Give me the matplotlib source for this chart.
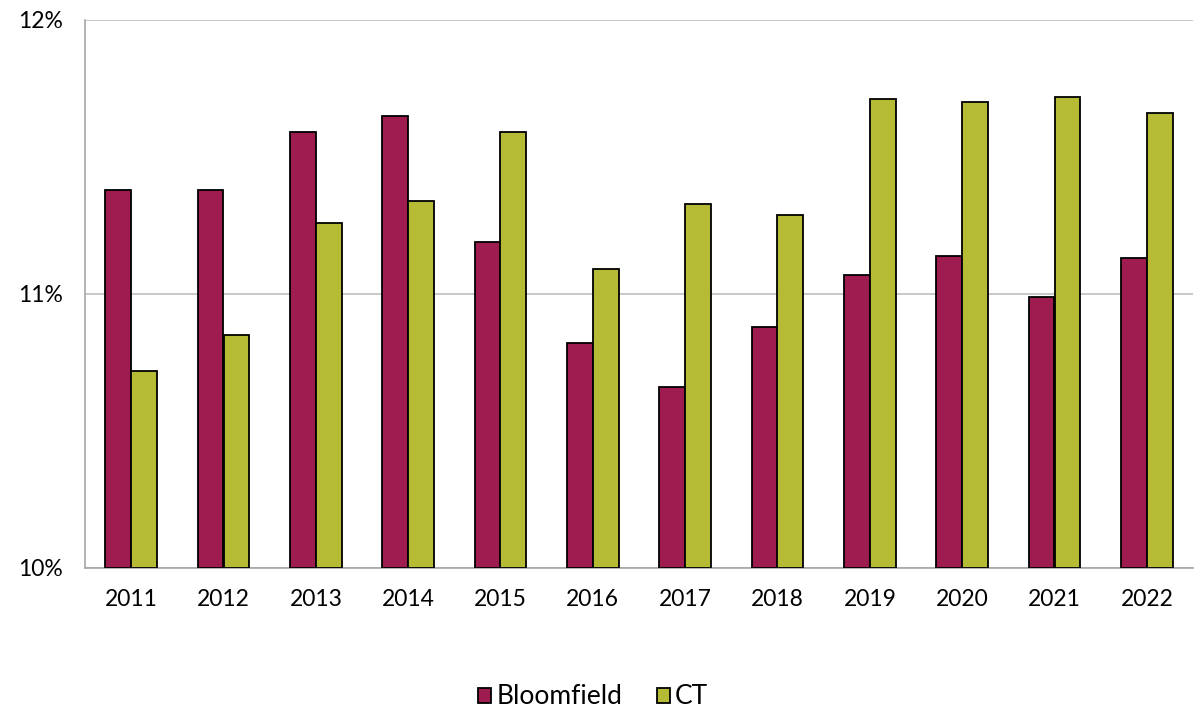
import matplotlib
matplotlib.use("Agg")
import matplotlib.pyplot as plt
import numpy as np

years = ["2011", "2012", "2013", "2014", "2015", "2016", "2017", "2018", "2019", "2020", "2021", "2022"]
bloomfield = [11.38, 11.38, 11.59, 11.65, 11.19, 10.82, 10.66, 10.88, 11.07, 11.14, 10.99, 11.13]
ct = [10.72, 10.85, 11.26, 11.34, 11.59, 11.09, 11.33, 11.29, 11.71, 11.70, 11.72, 11.66]
yticks = [10, 11, 12]
ytick_labels = ["10%", "11%", "12%"]

plt.rcParams['font.family'] = ['Lato', 'DejaVu Sans']

fig = plt.figure(figsize=(11.98, 7.10), dpi=100)
ax = fig.add_axes([85/1198, 1-568/710, (1193-85)/1198, (568-20)/710])

x = np.arange(len(years))
w = 0.28
ax.bar(x - w/2, [v - 10 for v in bloomfield], w, bottom=10, color="#9E1C50",
       edgecolor="black", linewidth=1.3, label="Bloomfield", zorder=3)
ax.bar(x + w/2, [v - 10 for v in ct], w, bottom=10, color="#B5BB35",
       edgecolor="black", linewidth=1.3, label="CT", zorder=3)

ax.set_xlim(-0.5, len(years) - 0.5)
ax.set_ylim(10, 12)
ax.set_yticks(yticks)
ax.set_yticklabels(ytick_labels, fontsize=16.5)
ax.set_xticks(x)
ax.set_xticklabels(years, fontsize=16.5)
ax.tick_params(axis='x', length=0, pad=15)
ax.tick_params(axis='y', length=0, pad=16)
ax.yaxis.grid(True, color="#BFBFBF", linewidth=1.2, zorder=0)

ax.spines["right"].set_visible(False)
ax.spines["top"].set_visible(False)
for s in ["left", "bottom"]:
    ax.spines[s].set_color("#A6A6A6")
    ax.spines[s].set_linewidth(1.2)

leg = fig.legend(loc="center", bbox_to_anchor=(0.495, 1-697/710), ncol=2, frameon=False,
                 fontsize=19, handlelength=0.5, handleheight=0.5, handletextpad=0.2,
                 columnspacing=1.3)

fig.savefig("out.png", dpi=100)
